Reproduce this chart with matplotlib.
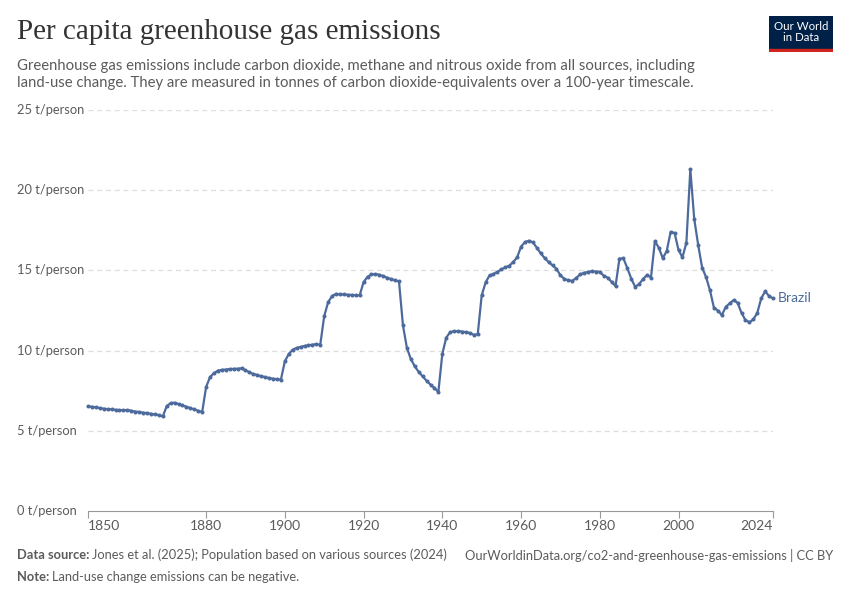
import matplotlib
matplotlib.use("Agg")
import matplotlib.pyplot as plt
from matplotlib.patches import Rectangle

years = list(range(1850, 2025))
values = [
    # 1850-1869
    6.52, 6.50, 6.46, 6.42, 6.38, 6.35, 6.33, 6.31, 6.29, 6.29,
    6.29, 6.25, 6.20, 6.17, 6.13, 6.10, 6.06, 6.02, 5.98, 5.90,
    # 1870-1889
    6.54, 6.73, 6.75, 6.67, 6.58, 6.50, 6.42, 6.33, 6.25, 6.17,
    7.73, 8.35, 8.60, 8.75, 8.80, 8.82, 8.85, 8.86, 8.87, 8.90,
    # 1890-1909
    8.77, 8.65, 8.54, 8.48, 8.40, 8.35, 8.29, 8.25, 8.22, 8.19,
    9.33, 9.79, 10.06, 10.17, 10.23, 10.29, 10.33, 10.37, 10.40, 10.37,
    # 1910-1929
    12.15, 13.02, 13.40, 13.54, 13.50, 13.50, 13.48, 13.47, 13.45, 13.44,
    14.27, 14.60, 14.75, 14.77, 14.73, 14.65, 14.54, 14.46, 14.38, 14.31,
    # 1930-1949
    11.58, 10.17, 9.48, 9.02, 8.67, 8.40, 8.12, 7.88, 7.67, 7.42,
    9.79, 10.81, 11.15, 11.21, 11.21, 11.19, 11.15, 11.10, 10.98, 11.02,
    # 1950-1969
    13.44, 14.25, 14.69, 14.78, 14.91, 15.06, 15.19, 15.29, 15.52, 15.81,
    16.48, 16.77, 16.85, 16.75, 16.42, 16.06, 15.77, 15.52, 15.31, 15.10,
    # 1970-1989
    14.69, 14.48, 14.38, 14.35, 14.52, 14.75, 14.85, 14.90, 14.94, 14.93,
    14.90, 14.67, 14.55, 14.29, 14.02, 15.74, 15.75, 15.14, 14.48, 13.97,
    # 1990-2009
    14.15, 14.46, 14.72, 14.55, 16.83, 16.41, 15.76, 16.21, 17.40, 17.33,
    16.27, 15.81, 16.73, 21.30, 18.19, 16.58, 15.17, 14.58, 13.75, 12.67,
    # 2010-2024
    12.50, 12.21, 12.73, 12.94, 13.15, 12.98, 12.35, 11.90, 11.77, 11.94,
    12.35, 13.25, 13.69, 13.40, 13.25,
]
series_name = "Brazil"
y_ticks = [0, 5, 10, 15, 20, 25]
y_tick_labels = [f"{v} t/person" for v in y_ticks]
x_ticks = [1850, 1880, 1900, 1920, 1940, 1960, 1980, 2000, 2024]

title = "Per capita greenhouse gas emissions"
subtitle = ("Greenhouse gas emissions include carbon dioxide, methane and nitrous oxide from all sources, including\n"
            "land-use change. They are measured in tonnes of carbon dioxide-equivalents over a 100-year timescale.")

line_color = "#4C6A9C"
text_gray = "#5b5b5b"
grid_gray = "#dddddd"

plt.rcParams['font.family'] = ['Lato', 'DejaVu Sans']

fig = plt.figure(figsize=(8.5, 6), dpi=100)
ax = fig.add_axes([88/850, 1-511/600, (773-88)/850, (511-110)/600])

ax.plot(years, values, color=line_color, lw=1.6, marker='o', ms=2.9,
        markeredgewidth=0, zorder=3, clip_on=False)

ax.set_xlim(1850, 2024)
ax.set_ylim(0, 25)

for v in y_ticks[1:]:
    ax.axhline(v, color=grid_gray, lw=0.9, ls=(0, (4, 3)), zorder=1)

ax.set_yticks(y_ticks)
ax.set_yticklabels([])
for v, lab in zip(y_ticks, y_tick_labels):
    ax.text(-0.1038, v, lab, transform=ax.get_yaxis_transform(), ha='left', va='center',
            fontsize=9.3, color=text_gray)
ax.tick_params(axis='y', length=0)

ax.set_xticks(x_ticks)
ax.set_xticklabels([])
ax.tick_params(axis='x', length=5, color='#999999', width=0.8)
for i, x in enumerate(x_ticks):
    ha = 'left' if i == 0 else ('right' if i == len(x_ticks) - 1 else 'center')
    ax.text(x, -0.022, str(x), transform=ax.get_xaxis_transform(), ha=ha, va='top',
            fontsize=10, color=text_gray)

for s in ['top', 'right', 'left']:
    ax.spines[s].set_visible(False)
ax.spines['bottom'].set_color('#999999')
ax.spines['bottom'].set_linewidth(0.8)

ax.text(years[-1] + 1.3, values[-1], series_name, ha='left', va='center',
        fontsize=10, color=line_color)

# Title and subtitle
fig.text(17/850, 1-32/600, title, fontsize=21, color='#333333',
         family=['Liberation Serif'], va='center', ha='left')
fig.text(17/850, 1-59/600, subtitle, fontsize=10.75, color=text_gray, va='top', ha='left',
         linespacing=1.3)

# Logo
logo_ax = fig.add_axes([769/850, 1-52/600, 64/850, 36/600])
logo_ax.set_xlim(0, 1); logo_ax.set_ylim(0, 1); logo_ax.axis('off')
logo_ax.add_patch(Rectangle((0, 0.07), 1, 0.93, color='#002147'))
logo_ax.add_patch(Rectangle((0, 0), 1, 0.07, color='#ce261e'))
logo_ax.text(0.5, 0.55, "Our World\nin Data", color='white', ha='center', va='center',
             fontsize=8.3, linespacing=1.0)

# Footer
fs = 9.3
renderer = fig.canvas.get_renderer()
t1 = fig.text(17/850, 1-555/600, "Data source:", fontsize=fs, color=text_gray, weight='bold',
              va='center', ha='left')
bb = t1.get_window_extent(renderer)
fig.text((bb.x1 + 3)/850, 1-555/600, "Jones et al. (2025); Population based on various sources (2024)",
         fontsize=fs, color=text_gray, va='center', ha='left')
fig.text(833/850, 1-555/600, "OurWorldinData.org/co2-and-greenhouse-gas-emissions | CC BY",
         fontsize=fs, color=text_gray, va='center', ha='right')
t2 = fig.text(17/850, 1-577/600, "Note:", fontsize=fs, color=text_gray, weight='bold',
              va='center', ha='left')
bb2 = t2.get_window_extent(renderer)
fig.text((bb2.x1 + 3)/850, 1-577/600, "Land-use change emissions can be negative.",
         fontsize=fs, color=text_gray, va='center', ha='left')

fig.savefig("out.png", dpi=100)
